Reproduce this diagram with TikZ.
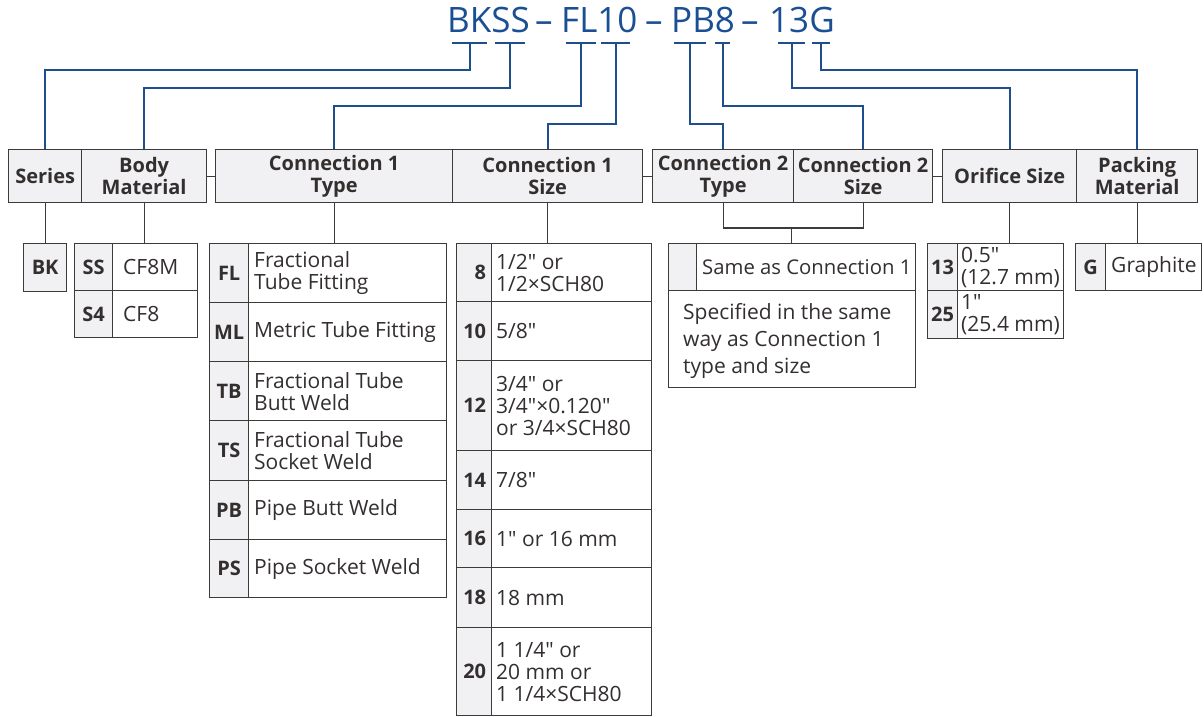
\documentclass[tikz,border=0pt]{standalone}
\usepackage{fontspec}
\setmainfont{Open Sans}[Ligatures=TeXOff]
\definecolor{tblue}{HTML}{1B4F93}
\definecolor{lblue}{HTML}{1F4E8C}
\definecolor{lineC}{HTML}{3D3A3A}
\definecolor{txtC}{HTML}{332F2F}
\definecolor{hfill}{HTML}{F1F1F3}
\tikzset{
  cellbox/.style={draw=lineC, line width=1.3pt, inner sep=0pt, anchor=north west, text=txtC},
  hdr/.style={cellbox, fill=hfill, align=center, font=\bfseries\fontsize{20}{22}\selectfont},
  codecell/.style={cellbox, fill=hfill, font=\bfseries\fontsize{20}{22}\selectfont},
  desccell/.style={cellbox, fill=white},
  txt/.style={inner sep=0pt, anchor=west, align=left, text=txtC, font=\fontsize{21}{22}\selectfont},
  codetxt/.style={inner sep=0pt, anchor=east, text=txtC, font=\bfseries\fontsize{20}{22}\selectfont},
  ttl/.style={inner sep=0pt, anchor=base west, text=tblue, font=\fontsize{35}{40}\selectfont},
  bar/.style={fill=lblue, inner sep=0pt, minimum height=2.2pt, draw=none},
  bline/.style={draw=lblue, line width=2pt},
  dline/.style={draw=lineC, line width=1.3pt},
}
\begin{document}
\begin{tikzpicture}[x=1pt,y=-1pt]
\useasboundingbox (0,0) rectangle (1204,716);
% title
\node[ttl] (tA) at (447,32) {BKSS};
\node[ttl] (d1) at (535,32) {–};
\node[ttl] (tB) at (561,32) {FL10};
\node[ttl] (d2) at (645,32) {–};
\node[ttl] (tC) at (671,32) {PB8};
\node[ttl] (d3) at (741,32) {–};
\node[ttl] (tD) at (769,32) {13G};
% bars
\node[bar, minimum width=35pt] (bBK) at (469.5,43) {};
\node[bar, minimum width=30pt] (bSS) at (510,43) {};
\node[bar, minimum width=30pt] (bFL) at (581,43) {};
\node[bar, minimum width=29pt] (b10) at (615.5,43) {};
\node[bar, minimum width=32pt] (bPB) at (690,43) {};
\node[bar, minimum width=15pt] (b8) at (722.5,43) {};
\node[bar, minimum width=27pt] (b13) at (791.5,43) {};
\node[bar, minimum width=18pt] (bG) at (821,43) {};
% headers
\node[hdr, minimum width=73pt, minimum height=53pt] (series) at (8,149) {Series};
\node[hdr, minimum width=125pt, minimum height=53pt] (body) at (81,149) {Body\\Material};
\node[hdr, minimum width=237pt, minimum height=53pt] (c1type) at (215,149) {Connection 1\\Type};
\node[hdr, minimum width=190pt, minimum height=53pt] (c1size) at (452,149) {Connection 1\\Size};
\node[hdr, minimum width=141pt, minimum height=53pt] (c2type) at (652,149) {Connection 2\\Type};
\node[hdr, minimum width=139pt, minimum height=53pt] (c2size) at (793,149) {Connection 2\\Size};
\node[hdr, minimum width=134pt, minimum height=53pt] (orifice) at (942,149) {Orifice Size};
\node[hdr, minimum width=121pt, minimum height=53pt] (packing) at (1076,149) {Packing\\Material};
\draw[dline] (body.east) -- (c1type.west);
\draw[dline] (c1size.east) -- (c2type.west);
\draw[dline] (c2size.east) -- (orifice.west);
% blue connectors
\draw[bline] (bBK.center) -- ++(0,27) -| (series.north);
\draw[bline] (bSS.center) -- ++(0,45) -| (body.north);
\draw[bline] (bFL.center) -- ++(0,63) -| (c1type.north);
\draw[bline] (b10.center) -- ++(0,81) -| (c1size.north);
\draw[bline] (bPB.center) -- ++(0,81) -| (c2type.north);
\draw[bline] (b8.center) -- ++(0,63) -| (c2size.north);
\draw[bline] (b13.center) -- ++(0,45) -| (orifice.north);
\draw[bline] (bG.center) -- ++(0,27) -| (packing.north);
% Series
\node[codecell, minimum width=43pt, minimum height=48pt] (cBK) at (23,243) {BK};
\draw[dline] (series.south) -- (cBK.north -| series.south);
% Body material
\node[codecell, minimum width=38pt, minimum height=47pt] (cSS) at (74,243) {SS};
\node[desccell, minimum width=85pt, minimum height=47pt] (dSS) at (112,243) {};
\node[codecell, minimum width=38pt, minimum height=47pt] (cS4) at (74,290) {S4};
\node[desccell, minimum width=85pt, minimum height=47pt] (dS4) at (112,290) {};
\node[txt] (tSS) at ([xshift=11pt]dSS.west) {CF8M};
\node[txt] (tS4) at ([xshift=11pt]dS4.west) {CF8};
\draw[dline] (body.south) -- (body.south |- cSS.north);
% Connection 1 type
\node[codecell, minimum width=39pt, minimum height=59pt] (cFL) at (209,243) {FL};
\node[desccell, minimum width=198pt, minimum height=59pt] (dFL) at (248,243) {};
\node[codecell, minimum width=39pt, minimum height=59pt] (cML) at (209,302) {ML};
\node[desccell, minimum width=198pt, minimum height=59pt] (dML) at (248,302) {};
\node[codecell, minimum width=39pt, minimum height=59pt] (cTB) at (209,361) {TB};
\node[desccell, minimum width=198pt, minimum height=59pt] (dTB) at (248,361) {};
\node[codecell, minimum width=39pt, minimum height=60pt] (cTS) at (209,420) {TS};
\node[desccell, minimum width=198pt, minimum height=60pt] (dTS) at (248,420) {};
\node[codecell, minimum width=39pt, minimum height=59pt] (cPB) at (209,480) {PB};
\node[desccell, minimum width=198pt, minimum height=59pt] (dPB) at (248,480) {};
\node[codecell, minimum width=39pt, minimum height=58pt] (cPS) at (209,539) {PS};
\node[desccell, minimum width=198pt, minimum height=58pt] (dPS) at (248,539) {};
\node[txt] (tFL) at ([xshift=6pt]dFL.west) {Fractional\\Tube Fitting};
\node[txt] (tML) at ([xshift=6pt]dML.west) {Metric Tube Fitting};
\node[txt] (tTB) at ([xshift=6pt]dTB.west) {Fractional Tube\\Butt Weld};
\node[txt] (tTS) at ([xshift=6pt]dTS.west) {Fractional Tube\\Socket Weld};
\node[txt] (tPB) at ([xshift=6pt]dPB.west) {Pipe Butt Weld};
\node[txt] (tPS) at ([xshift=6pt]dPS.west) {Pipe Socket Weld};
\draw[dline] (c1type.south) -- (c1type.south |- dFL.north);
% Connection 1 size
\node[codecell, minimum width=35pt, minimum height=58pt] (c8) at (456,243) {};
\node[desccell, minimum width=160pt, minimum height=58pt] (d8) at (491,243) {};
\node[codecell, minimum width=35pt, minimum height=59pt] (c10) at (456,301) {};
\node[desccell, minimum width=160pt, minimum height=59pt] (d10) at (491,301) {};
\node[codecell, minimum width=35pt, minimum height=90pt] (c12) at (456,360) {};
\node[desccell, minimum width=160pt, minimum height=90pt] (d12) at (491,360) {};
\node[codecell, minimum width=35pt, minimum height=59pt] (c14) at (456,450) {};
\node[desccell, minimum width=160pt, minimum height=59pt] (d14) at (491,450) {};
\node[codecell, minimum width=35pt, minimum height=58pt] (c16) at (456,509) {};
\node[desccell, minimum width=160pt, minimum height=58pt] (d16) at (491,509) {};
\node[codecell, minimum width=35pt, minimum height=60pt] (c18) at (456,567) {};
\node[desccell, minimum width=160pt, minimum height=60pt] (d18) at (491,567) {};
\node[codecell, minimum width=35pt, minimum height=88pt] (c20) at (456,627) {};
\node[desccell, minimum width=160pt, minimum height=88pt] (d20) at (491,627) {};
\node[codetxt] (k8) at ([xshift=-6pt]c8.east) {8};
\node[codetxt] (k10) at ([xshift=-6pt]c10.east) {10};
\node[codetxt] (k12) at ([xshift=-6pt]c12.east) {12};
\node[codetxt] (k14) at ([xshift=-6pt]c14.east) {14};
\node[codetxt] (k16) at ([xshift=-6pt]c16.east) {16};
\node[codetxt] (k18) at ([xshift=-6pt]c18.east) {18};
\node[codetxt] (k20) at ([xshift=-6pt]c20.east) {20};
\node[txt] (t8) at ([xshift=5pt]d8.west) {1/2" or\\1/2×SCH80};
\node[txt] (t10) at ([xshift=5pt]d10.west) {5/8"};
\node[txt] (t12) at ([xshift=5pt]d12.west) {3/4" or\\3/4"×0.120"\\or 3/4×SCH80};
\node[txt] (t14) at ([xshift=5pt]d14.west) {7/8"};
\node[txt] (t16) at ([xshift=5pt]d16.west) {1" or 16 mm};
\node[txt] (t18) at ([xshift=5pt]d18.west) {18 mm};
\node[txt] (t20) at ([xshift=5pt]d20.west) {1 1/4" or\\20 mm or\\1 1/4×SCH80};
\draw[dline] (c1size.south) -- (c1size.south |- d8.north);
% Connection 2
\node[codecell, minimum width=28pt, minimum height=47pt] (c2code) at (668,243) {};
\node[desccell, minimum width=219pt, minimum height=47pt] (c2same) at (696,243) {};
\node[desccell, minimum width=247pt, minimum height=97pt] (c2spec) at (668,290) {};
\node[txt, font=\fontsize{20.3}{22}\selectfont] (tsame) at ([xshift=6pt]c2same.west) {Same as Connection 1};
\node[txt, font=\fontsize{21}{27}\selectfont] (tspec) at ([xshift=15pt,yshift=-2pt]c2spec.west) {Specified in the same\\way as Connection 1\\type and size};
\coordinate (c2j) at (791.5,228);
\draw[dline] (c2type.south) |- (c2j) -| (c2size.south);
\draw[dline] (c2j) -- (c2j |- c2same.north);
% Orifice
\node[codecell, minimum width=30pt, minimum height=47pt] (c13) at (927,243) {13};
\node[desccell, minimum width=106pt, minimum height=47pt] (d13) at (957,243) {};
\node[codecell, minimum width=30pt, minimum height=48pt] (c25) at (927,290) {25};
\node[desccell, minimum width=106pt, minimum height=48pt] (d25) at (957,290) {};
\node[txt] (t13) at ([xshift=4pt]d13.west) {0.5"\\(12.7 mm)};
\node[txt] (t25) at ([xshift=4pt]d25.west) {1"\\(25.4 mm)};
\draw[dline] (orifice.south) -- (orifice.south |- c13.north);
% Packing
\node[codecell, minimum width=30pt, minimum height=47pt] (cG) at (1075,243) {G};
\node[desccell, minimum width=96pt, minimum height=47pt] (dG) at (1105,243) {};
\node[txt] (tG) at ([xshift=6pt]dG.west) {Graphite};
\draw[dline] (packing.south) -- (packing.south |- cG.north);
\end{tikzpicture}
\end{document}
